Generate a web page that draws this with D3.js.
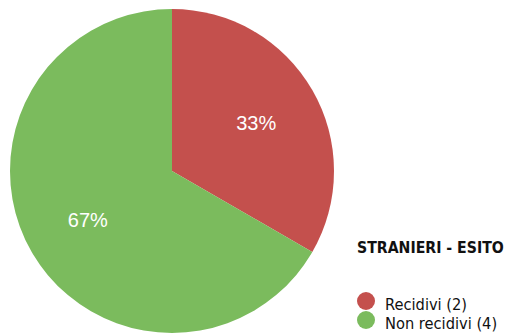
<!DOCTYPE html>
<html>
<head>
<meta charset="utf-8">
<title>Stranieri - esito</title>
<script src="https://d3js.org/d3.v7.min.js"></script>
<style>
  body { margin: 0; background: #fff; }
</style>
</head>
<body>
<svg width="515" height="334"></svg>
<script>
// dati
const categories = ["Recidivi", "Non recidivi"];
const counts = [2, 4];
const colors = ["#c4504d", "#7bbb5d"];
const title = "STRANIERI - ESITO";

const svg = d3.select("svg");
const cx = 172, cy = 171, radius = 162;

const total = d3.sum(counts);
const pie = d3.pie().sort(null).value(d => d)(counts);
const arc = d3.arc().innerRadius(0).outerRadius(radius);
const labelArc = d3.arc().innerRadius(radius * 0.6).outerRadius(radius * 0.6);

const g = svg.append("g").attr("transform", "translate(" + cx + "," + cy + ")");

g.selectAll("path")
  .data(pie)
  .enter()
  .append("path")
  .attr("d", arc)
  .attr("fill", (d, i) => colors[i]);

g.selectAll("text")
  .data(pie)
  .enter()
  .append("text")
  .attr("transform", d => "translate(" + labelArc.centroid(d) + ")")
  .attr("text-anchor", "middle")
  .attr("dy", "0.36em")
  .attr("fill", "#fff")
  .style("font-family", "'Liberation Sans', Arial, sans-serif")
  .style("font-size", "20px")
  .text(d => Math.round(d.data / total * 100) + "%");

// legenda
svg.append("text")
  .attr("x", 357)
  .attr("y", 253)
  .style("font-family", "'DejaVu Sans Condensed', 'DejaVu Sans', sans-serif")
  .style("font-weight", "bold")
  .style("font-size", "15.7px")
  .attr("fill", "#111")
  .text(title);

const legend = svg.append("g")
  .selectAll("g")
  .data(categories)
  .enter()
  .append("g")
  .attr("transform", (d, i) => "translate(366," + (301 + i * 19) + ")");

legend.append("circle")
  .attr("r", 9)
  .attr("fill", (d, i) => colors[i]);

legend.append("text")
  .attr("x", 19)
  .attr("y", 9)
  .style("font-family", "'DejaVu Sans Condensed', 'DejaVu Sans', sans-serif")
  .style("font-size", "16.3px")
  .attr("fill", "#111")
  .text((d, i) => d + " (" + counts[i] + ")");
</script>
</body>
</html>
